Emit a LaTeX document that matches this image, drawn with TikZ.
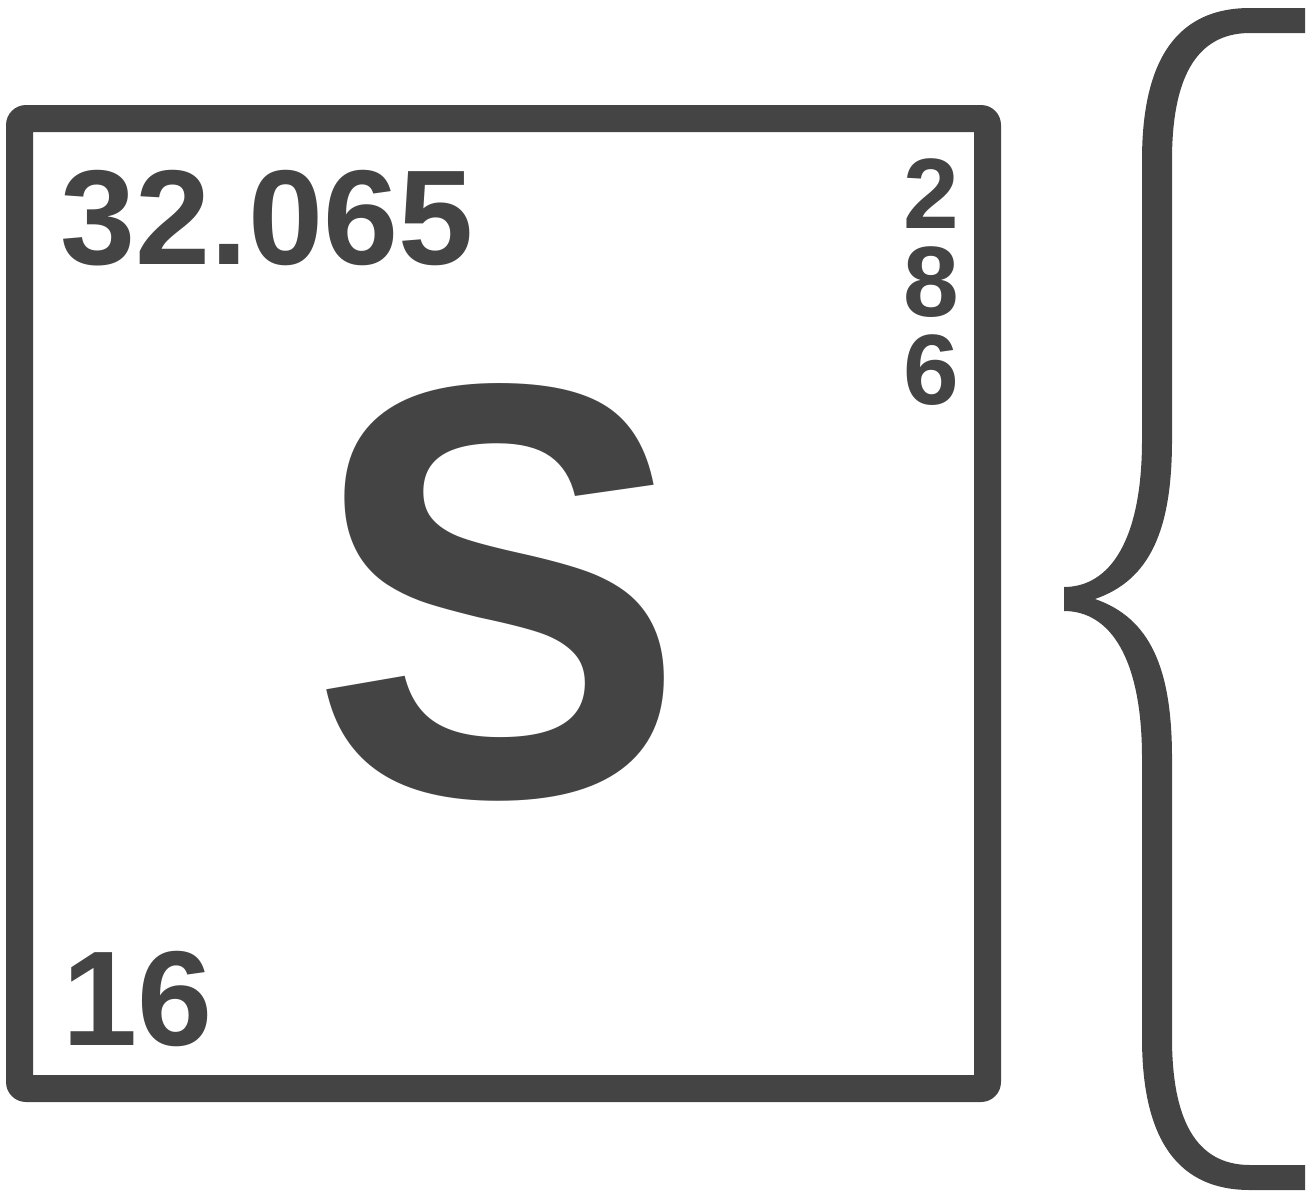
\documentclass[tikz,border=0pt]{standalone}
\usepackage{fontspec}
\setmainfont{Liberation Sans}
\definecolor{ink}{HTML}{444444}
\begin{document}
\begin{tikzpicture}[x=1pt,y=-1pt,
  lbl/.style={inner sep=0pt,outer sep=0pt,text=ink,anchor=base,font=\bfseries,
    text height=0.72em,text depth=0pt}]
\useasboundingbox (0,0) rectangle (1311,1194);
% tile frame
\fill[ink,even odd rule]
  [rounded corners=20pt] (6,105) rectangle (1001,1102)
  [sharp corners] (33,132) rectangle (974,1075);
\node[lbl,font=\bfseries\fontsize{135}{135}\selectfont] (mass) at (267,264) {32.065};
\node[lbl,font=\bfseries\fontsize{100}{100}\selectfont] (s1) at (931,228) {2};
\node[lbl,font=\bfseries\fontsize{100}{100}\selectfont] (s2) at (931,316) {8};
\node[lbl,font=\bfseries\fontsize{100}{100}\selectfont] (s3) at (931,404) {6};
\node[lbl,xscale=0.955,font=\bfseries\fontsize{590}{590}\selectfont] (sym) at (498,795) {S};
\node[lbl,font=\bfseries\fontsize{135}{135}\selectfont] (num) at (138,1045) {16};
% curly brace
\fill[ink]
  (1305,8) -- (1250,8)
  .. controls (1170,8) and (1142,70) .. (1142,160)
  -- (1142,440)
  .. controls (1142,540) and (1110,587) .. (1064,587)
  -- (1064,611)
  .. controls (1110,611) and (1142,658) .. (1142,758)
  -- (1142,1038)
  .. controls (1142,1128) and (1170,1190) .. (1250,1190)
  -- (1305,1190) -- (1305,1165) -- (1250,1165)
  .. controls (1195,1165) and (1172,1118) .. (1172,1038)
  -- (1172,758)
  .. controls (1172,668) and (1150,618) .. (1095,599)
  .. controls (1150,580) and (1172,530) .. (1172,440)
  -- (1172,160)
  .. controls (1172,80) and (1195,33) .. (1250,33)
  -- (1305,33) -- cycle;
\end{tikzpicture}
\end{document}
